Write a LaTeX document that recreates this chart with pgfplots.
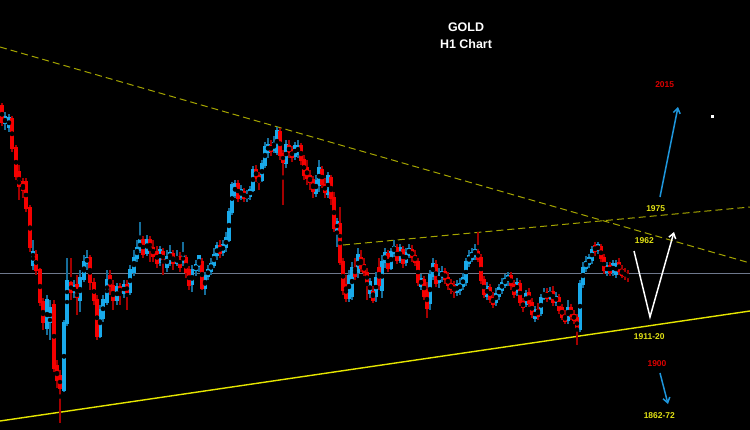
\documentclass[border=0pt]{standalone}
\usepackage{pgfplots}
\usepackage{pgfplotstable}
\pgfplotsset{compat=1.18}
\usetikzlibrary{arrows.meta}
\usepackage{fontspec}
\setmainfont{Liberation Sans}
\definecolor{bodyred}{RGB}{245,0,0}
\definecolor{bodyblue}{RGB}{25,170,235}
\definecolor{wickred}{RGB}{165,0,0}
\definecolor{wickblue}{RGB}{22,110,155}
\definecolor{dashyel}{RGB}{165,165,0}
\definecolor{solidyel}{RGB}{230,230,0}
\definecolor{labyel}{RGB}{225,225,20}
\definecolor{labred}{RGB}{220,0,0}
\definecolor{arrblue}{RGB}{30,150,220}
\definecolor{hline}{RGB}{110,120,140}

\pgfplotstableread{
x o c h l
2 106 122 103 126
5 123 117 112 130
9 127 118 114 132
12 119 148 116 152
16 148 176 145 180
19 172 186 165 200
23 182 190 178 198
26 182 208 178 212
30 208 247 205 252
33 265 252 240 270
36 255 270 250 275
40 270 302 268 306
43 302 322 298 330
47 328 300 295 335
50 322 308 300 340
54 305 368 300 372
57 366 380 360 388
60 376 388 370 423
64 390 323 320 392
67 323 281 258 326
71 283 292 258 300
74 292 286 280 298
77 285 297 275 315
80 300 278 270 312
84 279 262 255 282
87 263 258 250 270
90 258 282 255 290
94 283 300 278 305
97 300 336 295 340
100 336 310 305 338
103 318 300 295 322
107 302 280 270 305
110 276 286 270 295
113 286 300 280 310
117 300 287 283 305
120 287 293 283 305
124 293 285 280 298
127 285 292 280 310
130 292 270 265 295
134 272 258 250 276
137 258 248 240 262
140 250 240 222 253
143 240 254 236 258
147 253 240 235 256
150 240 250 236 262
153 248 256 240 262
157 252 263 246 268
160 262 250 246 266
163 252 262 248 275
167 267 257 250 272
170 263 253 245 266
173 254 263 250 270
177 263 258 250 266
180 257 267 252 272
183 262 255 242 266
186 258 272 255 278
189 270 285 266 290
192 284 270 265 292
196 270 265 260 276
199 266 256 255 272
202 262 288 258 290
205 288 276 272 295
208 276 270 265 280
211 271 264 258 275
214 265 255 248 268
217 255 246 242 260
220 246 253 240 258
223 252 245 240 256
226 247 238 232 252
229 240 212 208 242
232 212 185 182 215
235 195 184 180 198
238 184 198 180 202
241 197 190 185 200
244 192 198 188 202
247 198 195 190 202
250 196 190 186 200
253 190 170 166 192
256 170 178 165 182
259 176 182 172 190
262 180 164 160 182
265 165 147 142 168
268 152 145 138 158
271 146 151 140 156
274 150 143 136 153
277 152 131 127 155
280 132 155 128 160
283 154 162 150 205
286 163 145 140 168
289 146 152 140 158
292 150 157 146 162
295 156 146 142 160
298 154 146 140 158
301 146 160 143 165
304 160 175 155 180
307 168 178 160 185
310 176 182 170 190
313 180 191 176 198
316 193 181 175 197
319 185 168 160 192
322 170 184 166 188
325 185 192 178 198
328 194 176 172 198
331 178 198 175 205
334 198 228 192 232
337 230 222 218 247
340 224 262 207 265
343 262 290 258 295
346 285 298 275 302
349 298 276 270 302
352 296 268 262 300
355 268 276 258 280
358 272 255 248 278
361 258 268 250 272
364 265 272 258 276
367 273 282 268 300
370 293 282 278 298
373 292 300 286 303
376 296 278 272 302
379 268 285 258 290
382 290 262 255 298
385 262 253 248 268
388 254 268 250 272
391 268 252 248 270
394 253 247 240 257
397 248 260 244 264
400 260 248 244 263
403 250 263 246 268
406 262 253 248 266
409 255 249 244 258
412 250 257 245 262
415 256 262 250 266
418 262 282 258 286
421 286 279 274 290
424 280 296 276 300
427 290 308 282 318
430 303 275 270 310
433 276 264 258 280
436 265 283 260 287
439 282 274 268 288
442 277 272 266 282
445 272 279 268 284
448 278 285 272 290
451 284 289 279 294
454 286 291 281 298
457 292 285 280 296
460 290 284 278 295
463 286 278 273 290
466 282 262 258 286
469 263 256 250 267
472 259 253 248 262
475 256 250 244 260
478 252 259 232 262
481 258 280 254 284
484 280 294 276 298
487 296 287 282 300
490 288 299 284 303
493 298 304 292 308
496 302 294 288 306
499 296 288 284 300
502 290 283 278 294
505 285 279 274 288
508 281 276 272 286
511 276 285 272 290
514 285 294 280 298
517 292 283 278 296
520 284 302 280 306
523 302 307 298 312
526 304 294 290 307
529 293 303 288 307
532 303 314 298 318
535 318 310 306 322
538 310 316 303 320
541 313 298 294 316
544 298 294 288 300
547 293 298 288 302
550 298 292 287 300
553 292 302 286 306
556 302 297 292 306
559 298 310 294 314
562 308 317 304 320
565 316 321 310 324
568 320 308 300 324
571 308 316 304 320
574 315 320 310 324
577 318 329 314 345
580 329 284 280 332
583 284 268 262 288
586 268 262 256 272
589 264 258 254 268
592 260 250 246 264
595 246 251 242 256
598 250 245 242 254
601 247 258 244 262
604 258 270 254 274
607 272 266 262 276
610 266 272 262 276
613 272 264 260 276
616 274 264 260 278
619 263 271 258 275
622 270 275 265 278
625 273 276 268 280
628 275 277 270 282
}\candles

\begin{document}
\begin{tikzpicture}
\fill[black] (0,0) rectangle (750bp,430bp);
\begin{axis}[
  at={(0,0)}, anchor=south west,
  width=750bp, height=430bp, scale only axis,
  xmin=0, xmax=750, ymin=0, ymax=430, y dir=reverse,
  hide axis, clip=true,
]
% horizontal reference line
\addplot[hline, line width=1bp] coordinates {(0,273) (750,273)};
% trend lines
\addplot[dashyel, line width=1bp, dash pattern=on 7bp off 4bp] coordinates {(0,47) (750,263)};
\addplot[dashyel, line width=1bp, dash pattern=on 7bp off 4bp] coordinates {(343,245) (750,207)};
\addplot[solidyel, line width=1.4bp] coordinates {(0,421) (750,311)};

% wicks
\addplot[only marks, mark=none,
  restrict expr to domain={\thisrow{o}-\thisrow{c}}{0.001:1000},
  error bars/.cd, y dir=both, y explicit, error mark=none,
  error bar style={line width=1.1bp, wickblue}]
  table[x=x, y expr={(\thisrow{h}+\thisrow{l})/2}, y error expr={(\thisrow{l}-\thisrow{h})/2}] {\candles};
\addplot[only marks, mark=none,
  restrict expr to domain={\thisrow{o}-\thisrow{c}}{-1000:0},
  error bars/.cd, y dir=both, y explicit, error mark=none,
  error bar style={line width=1.1bp, wickred}]
  table[x=x, y expr={(\thisrow{h}+\thisrow{l})/2}, y error expr={(\thisrow{l}-\thisrow{h})/2}] {\candles};
% bodies
\addplot[only marks, mark=none,
  restrict expr to domain={\thisrow{o}-\thisrow{c}}{0.001:1000},
  error bars/.cd, y dir=both, y explicit, error mark=none,
  error bar style={line width=3.2bp, bodyblue}]
  table[x=x, y expr={(\thisrow{o}+\thisrow{c})/2}, y error expr={abs(\thisrow{o}-\thisrow{c})/2+0.9}] {\candles};
\addplot[only marks, mark=none,
  restrict expr to domain={\thisrow{o}-\thisrow{c}}{-1000:0},
  error bars/.cd, y dir=both, y explicit, error mark=none,
  error bar style={line width=3.2bp, bodyred}]
  table[x=x, y expr={(\thisrow{o}+\thisrow{c})/2}, y error expr={abs(\thisrow{o}-\thisrow{c})/2+0.9}] {\candles};

% scenario arrows
\addplot[arrblue, line width=1.5bp, -{Straight Barb[length=5bp,width=7bp]}] coordinates {(660,197) (678,107)};
\addplot[white, line width=1.5bp, -{Straight Barb[length=5bp,width=7bp]}] coordinates {(634,251) (650,317) (674,232)};
\addplot[arrblue, line width=1.5bp, -{Straight Barb[length=5bp,width=7bp]}] coordinates {(660,373) (668,404)};
\addplot[only marks, mark=square*, mark size=1bp, white] coordinates {(712,116)};

% texts
\node[text=white, font=\fontsize{12.5}{14}\selectfont\bfseries] at (axis cs:466,27) {GOLD};
\node[text=white, font=\fontsize{12.5}{14}\selectfont\bfseries] at (axis cs:466,44) {H1 Chart};
\node[text=labred, font=\fontsize{8.5}{10}\selectfont\bfseries] at (axis cs:664.7,85) {2015};
\node[text=labyel, font=\fontsize{8.5}{10}\selectfont\bfseries] at (axis cs:655.7,209) {1975};
\node[text=labyel, font=\fontsize{8.5}{10}\selectfont\bfseries] at (axis cs:644.3,240.3) {1962};
\node[text=labyel, font=\fontsize{8.5}{10}\selectfont\bfseries] at (axis cs:649.3,336.7) {1911-20};
\node[text=labred, font=\fontsize{8.5}{10}\selectfont\bfseries] at (axis cs:657,363.3) {1900};
\node[text=labyel, font=\fontsize{8.5}{10}\selectfont\bfseries] at (axis cs:659.3,416) {1862-72};
\end{axis}
\end{tikzpicture}
\end{document}
